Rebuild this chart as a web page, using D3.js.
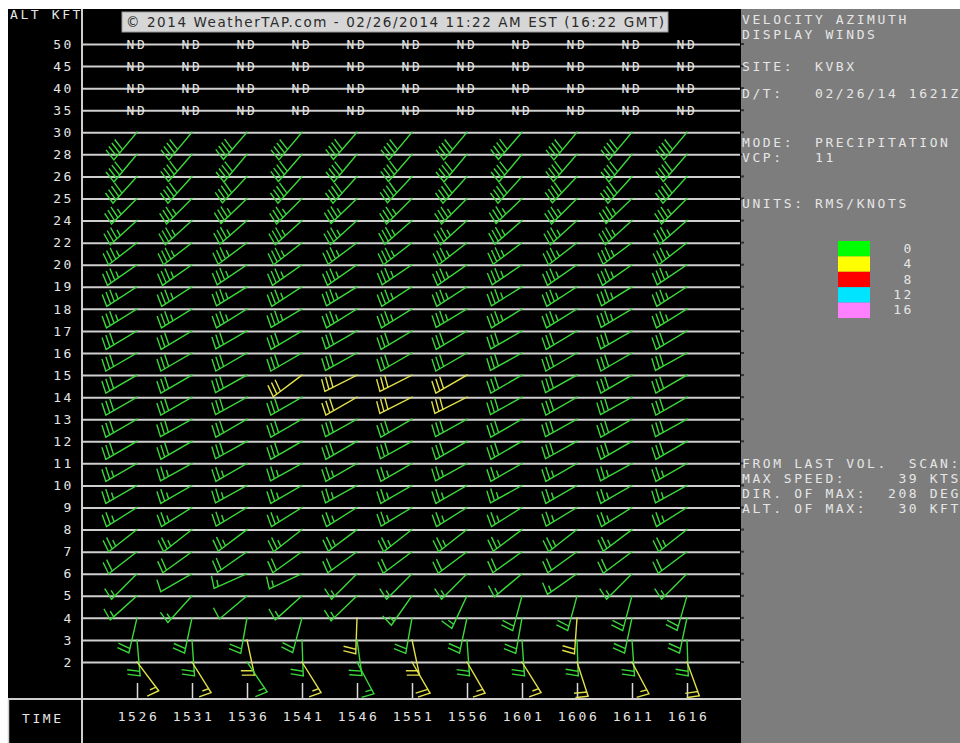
<!DOCTYPE html>
<html>
<head>
<meta charset="utf-8">
<script src="https://cdn.jsdelivr.net/npm/d3@7/dist/d3.min.js"></script>
<style>
  body { margin: 0; background: #fff; }
  svg { display: block; }
  .mono { font-family: "DejaVu Sans Mono", monospace; font-size: 13px; letter-spacing: 2.6px; fill: #e6e6e6; white-space: pre; }
</style>
</head>
<body>
<svg id="vwp" width="960" height="743"></svg>
<script>
// altitude rows (kft) top to bottom, time columns
const altitudes = ["50","45","40","35","30","28","26","25","24","22","20","19","18","17","16","15","14","13","12","11","10","9","8","7","6","5","4","3","2"];
const times = ["1526","1531","1536","1541","1546","1551","1556","1601","1606","1611","1616"];
const ndLevels = ["50","45","40","35"];
const barbLevels = ["30","28","26","25","24","22","20","19","18","17","16","15","14","13","12","11","10","9","8","7","6","5","4","3","2"];

// wind direction (deg, from) per barb level, per time
const windDir = [
  [220,220,221,220,221,220,220,221,220,220,220],
  [220,221,220,221,220,221,220,220,221,220,221],
  [222,222,223,222,222,223,222,222,223,222,222],
  [225,225,226,225,226,225,225,226,225,226,225],
  [228,228,229,228,228,229,228,229,228,228,229],
  [232,232,233,232,233,232,232,233,232,233,232],
  [235,235,236,235,235,236,235,236,235,235,236],
  [237,237,238,237,238,237,237,238,237,238,237],
  [238,238,238,239,238,238,239,238,238,239,238],
  [239,239,240,239,240,239,239,240,239,240,239],
  [240,240,240,240,241,240,240,241,240,240,241],
  [240,240,241,233,243,243,240,240,241,240,240],
  [240,240,241,240,240,243,243,241,240,241,240],
  [240,241,240,240,241,240,241,240,241,240,241],
  [240,240,241,240,240,241,240,240,241,240,240],
  [240,241,240,241,240,240,241,240,240,241,240],
  [240,240,241,240,241,240,240,241,240,240,241],
  [238,238,239,238,238,239,238,238,239,238,238],
  [232,232,233,232,233,232,232,233,232,233,232],
  [232,234,235,234,234,233,233,234,234,233,233],
  [225,240,246,245,225,225,225,230,235,225,225],
  [228,222,230,228,226,215,205,195,195,195,196],
  [193,192,190,195,182,190,192,190,184,192,192],
  [175,176,168,178,172,168,176,176,178,176,178],
  [143,148,146,148,152,150,150,148,162,152,160]
];

// wind speed (knots) per barb level, per time
const windSpd = [
  [40,40,40,40,40,40,40,40,40,40,40],
  [40,40,40,40,40,40,40,40,40,40,40],
  [40,40,40,40,40,40,40,40,40,40,40],
  [35,35,35,35,35,35,35,35,35,35,35],
  [35,35,35,35,35,35,35,35,35,35,35],
  [35,35,35,35,35,35,35,35,35,35,35],
  [35,35,35,35,35,35,35,35,35,35,35],
  [35,35,35,35,35,35,35,35,35,35,35],
  [35,35,35,35,35,35,35,35,35,35,35],
  [30,30,30,30,30,30,30,30,30,30,30],
  [30,30,30,30,30,30,30,30,30,30,30],
  [30,30,30,30,30,30,30,30,30,30,30],
  [30,30,30,30,30,30,30,30,30,30,30],
  [30,30,30,30,30,30,30,30,30,30,30],
  [30,30,30,30,30,30,30,30,30,30,30],
  [25,25,25,25,25,25,25,25,25,25,25],
  [25,25,25,25,25,25,25,25,25,25,25],
  [25,25,25,25,25,25,25,25,25,25,25],
  [25,25,25,25,25,25,25,25,25,25,25],
  [20,20,20,20,20,20,20,20,20,20,20],
  [15,10,15,15,15,15,15,15,15,15,15],
  [15,15,10,15,15,15,15,20,20,20,20],
  [20,20,20,20,20,20,20,20,20,20,20],
  [20,20,20,20,20,20,20,20,20,20,20],
  [15,15,15,15,15,20,15,15,20,15,20]
];

// rms (knots) per barb level, per time
const windRms = [
  [2,2,2,2,2,2,2,2,2,2,2],[2,2,2,2,2,2,2,2,2,2,2],[2,2,2,2,2,2,2,2,2,2,2],
  [2,2,2,2,2,2,2,2,2,2,2],[2,2,2,2,2,2,2,2,2,2,2],[2,2,2,2,2,2,2,2,2,2,2],
  [2,2,2,2,2,2,2,2,2,2,2],[2,2,2,2,2,2,2,2,2,2,2],[2,2,2,2,2,2,2,2,2,2,2],
  [2,2,2,2,2,2,2,2,2,2,2],[3,3,3,3,3,3,3,3,3,3,3],
  [3,3,3,5,5,5,5,3,3,3,3],
  [3,3,3,3,5,5,5,3,3,3,3],
  [3,3,3,3,3,3,3,3,3,3,3],[2,2,2,2,2,2,2,2,2,2,2],[2,2,2,2,2,2,2,2,2,2,2],
  [2,2,2,2,2,2,2,2,2,2,2],[2,2,2,2,2,2,2,2,2,2,2],[2,2,2,2,2,2,2,2,2,2,2],
  [2,2,2,2,2,2,2,2,2,2,2],[2,2,2,2,2,2,2,2,2,2,2],[2,2,2,2,2,2,2,2,2,2,2],
  [3,3,3,3,5,3,3,3,5,3,3],
  [3,3,5,3,3,5,3,3,3,3,3],
  [5,5,3,5,3,5,5,5,5,5,5]
];

const rmsBins = [0, 4, 8, 12, 16];
const rmsColors = ["#00ff00", "#ffff00", "#ff0000", "#00e4ff", "#ff80ff"];
const barbColors = ["#3ad83a", "#e2e04a", "#e03030", "#30d8f0", "#f080f0"];

const headerLines = [
  ["VELOCITY AZIMUTH", 24], ["DISPLAY WINDS", 39], ["SITE:  KVBX", 71],
  ["D/T:   02/26/14 1621Z", 98], ["MODE:  PRECIPITATION", 147], ["VCP:   11", 162],
  ["UNITS: RMS/KNOTS", 208]
];
const scanLines = [
  ["FROM LAST VOL.  SCAN:", 468], ["MAX SPEED:     39 KTS", 483],
  ["DIR. OF MAX:  208 DEG", 498], ["ALT. OF MAX:   30 KFT", 513]
];
const banner = "\u00a9 2014 WeatherTAP.com - 02/26/2014 11:22 AM EST (16:22 GMT)";

const svg = d3.select("#vwp");

// panels
svg.append("rect").attr("x", 8).attr("y", 9).attr("width", 733).attr("height", 734).attr("fill", "#000");
svg.append("rect").attr("x", 741).attr("y", 9).attr("width", 219).attr("height", 734).attr("fill", "#7d7d7d");

const y = d3.scalePoint().domain(altitudes).range([44, 662]);
const x = d3.scalePoint().domain(times).range([137, 687]);

// grid lines
const grid = svg.append("g")
  .attr("transform", "translate(82,0)")
  .call(d3.axisRight(y).tickSize(658).tickFormat(""));
grid.select(".domain").remove();
grid.selectAll("line").attr("stroke", "#cfcfcf").attr("stroke-width", 2);

// little notches into the side panel
svg.append("g").selectAll("line").data(altitudes).join("line")
  .attr("x1", 741).attr("x2", 744).attr("y1", d => y(d)).attr("y2", d => y(d))
  .attr("stroke", "#333").attr("stroke-width", 2);

// altitude labels
const gy = svg.append("g")
  .attr("transform", "translate(78,0)")
  .call(d3.axisLeft(y).tickSize(0).tickPadding(4));
gy.select(".domain").remove();
gy.selectAll("text").attr("class", "mono").attr("font-size", null).attr("font-family", null);

svg.append("text").attr("class", "mono").attr("x", 10).attr("y", 19).text("ALT KFT");

// bottom frame
svg.append("line").attr("x1", 8).attr("x2", 741).attr("y1", 699).attr("y2", 699)
  .attr("stroke", "#cfcfcf").attr("stroke-width", 2);
svg.append("line").attr("x1", 82).attr("x2", 82).attr("y1", 9).attr("y2", 743)
  .attr("stroke", "#cfcfcf").attr("stroke-width", 2);
svg.append("line").attr("x1", 8.5).attr("x2", 8.5).attr("y1", 699).attr("y2", 743)
  .attr("stroke", "#cfcfcf").attr("stroke-width", 1.5);

// time ticks and labels
const gt = svg.append("g")
  .attr("transform", "translate(0,698)")
  .call(d3.axisTop(x).tickSize(15).tickFormat(""));
gt.select(".domain").remove();
gt.selectAll("line").attr("stroke", "#d8d8d8").attr("stroke-width", 1.5);

const gx = svg.append("g")
  .attr("transform", "translate(1,699)")
  .call(d3.axisBottom(x).tickSize(0).tickPadding(13));
gx.select(".domain").remove();
gx.selectAll("text").attr("class", "mono").attr("font-size", null).attr("font-family", null);

svg.append("text").attr("class", "mono").attr("x", 22).attr("y", 723).text("TIME");

// banner
svg.append("rect").attr("x", 122).attr("y", 12).attr("width", 546).attr("height", 20)
  .attr("fill", "#d6d6d6").attr("stroke", "#9a9a9a").attr("stroke-width", 1);
svg.append("text").attr("x", 126).attr("y", 27)
  .attr("font-family", "DejaVu Sans, sans-serif").attr("font-size", 13.5)
  .attr("fill", "#2a2a2a").attr("textLength", 538).attr("lengthAdjust", "spacing")
  .text(banner);

// ND markers
const nd = [];
ndLevels.forEach(a => times.forEach(t => nd.push({ a, t })));
svg.append("g").selectAll("text").data(nd).join("text")
  .attr("class", "mono")
  .attr("x", d => x(d.t)).attr("y", d => y(d.a) + 5)
  .attr("text-anchor", "middle").attr("letter-spacing", 1)
  .attr("font-size", 12)
  .text("ND");

// wind barbs: staff from the grid point toward where the wind comes from,
// feathers at the far end, tilted a little back toward the staff origin
const L = 36, FL = 12, SP = 4.5, TILT = 12 * Math.PI / 180;
function colorFor(rms) {
  let i = 0;
  rmsBins.forEach((b, k) => { if (rms >= b) i = k; });
  return barbColors[i];
}
function barbPath(ox, oy, dir, spd) {
  const th = dir * Math.PI / 180;
  const ux = Math.sin(th), uy = -Math.cos(th);
  const fx = -uy * Math.cos(TILT) - ux * Math.sin(TILT);
  const fy = ux * Math.cos(TILT) - uy * Math.sin(TILT);
  const tx = ox + L * ux, ty = oy + L * uy;
  const p = d3.path();
  p.moveTo(ox, oy); p.lineTo(tx, ty);
  const s = Math.round(spd / 5) * 5;
  const full = Math.floor(s / 10), half = (s % 10) >= 5 ? 1 : 0;
  let k = 0;
  for (let i = 0; i < full; i++, k++) {
    const bx = tx - ux * SP * k, by = ty - uy * SP * k;
    p.moveTo(bx, by); p.lineTo(bx + fx * FL, by + fy * FL);
  }
  if (half) {
    if (full === 0) k = 1;
    const bx = tx - ux * SP * k, by = ty - uy * SP * k;
    p.moveTo(bx, by); p.lineTo(bx + fx * FL / 2, by + fy * FL / 2);
  }
  return p.toString();
}
const barbs = [];
barbLevels.forEach((a, r) => times.forEach((t, c) => {
  barbs.push({ a, t, dir: windDir[r][c], spd: windSpd[r][c], rms: windRms[r][c] });
}));
svg.append("g").selectAll("path").data(barbs).join("path")
  .attr("d", d => barbPath(x(d.t), y(d.a), d.dir, d.spd))
  .attr("fill", "none")
  .attr("stroke", d => colorFor(d.rms))
  .attr("stroke-width", 1.4)
  .attr("stroke-linecap", "square");

// side panel text
svg.append("g").selectAll("text").data(headerLines).join("text")
  .attr("class", "mono").attr("x", 742).attr("y", d => d[1]).text(d => d[0]);
svg.append("g").selectAll("text").data(scanLines).join("text")
  .attr("class", "mono").attr("x", 742).attr("y", d => d[1]).text(d => d[0]);

// rms legend
const ly = d3.scaleBand().domain(rmsBins).range([241, 318]);
svg.append("g").selectAll("rect").data(rmsBins).join("rect")
  .attr("x", 838).attr("y", d => ly(d)).attr("width", 32).attr("height", ly.bandwidth())
  .attr("fill", (d, i) => rmsColors[i]);
svg.append("g").selectAll("text").data(rmsBins).join("text")
  .attr("class", "mono").attr("font-size", 12).attr("letter-spacing", 1.5)
  .attr("x", 914).attr("y", d => ly(d) + ly.bandwidth() / 2 + 4)
  .attr("text-anchor", "end").text(d => d);
</script>
</body>
</html>
